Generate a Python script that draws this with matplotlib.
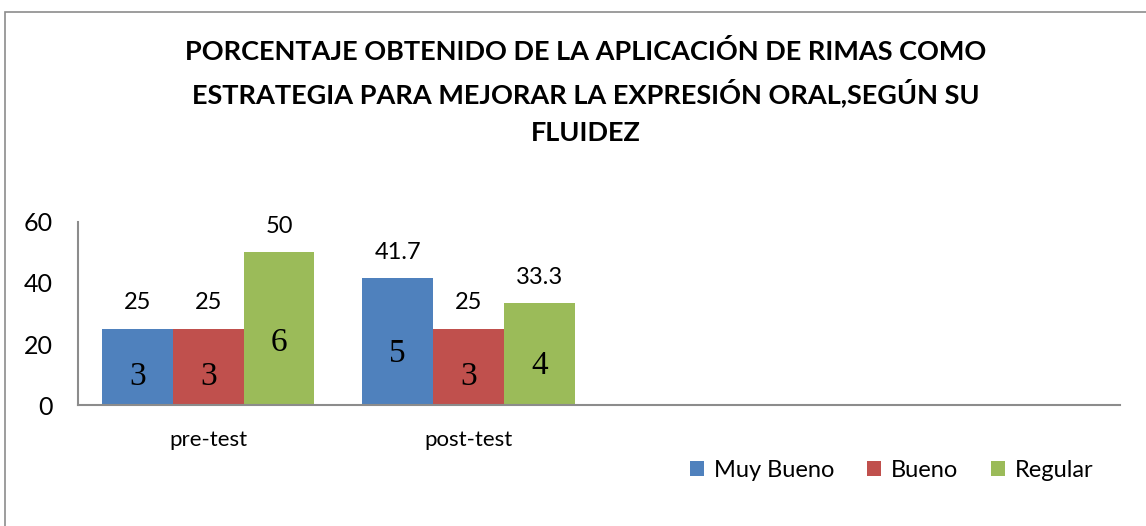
import matplotlib.pyplot as plt
import numpy as np
from matplotlib.patches import Rectangle

# Data
categories = ['pre-test', 'post-test', '', '']
series = ['Muy Bueno', 'Bueno', 'Regular']
muy_bueno = [25, 41.7]
bueno = [25, 25]
regular = [50, 33.3]
muy_bueno_n = [3, 5]
bueno_n = [3, 3]
regular_n = [6, 4]
colors = ['#4F81BD', '#C0504D', '#9BBB59']

title_lines = ['PORCENTAJE OBTENIDO DE LA APLICACIÓN DE RIMAS COMO',
               'ESTRATEGIA PARA MEJORAR LA EXPRESIÓN ORAL,SEGÚN SU',
               'FLUIDEZ']

plt.rcParams['font.family'] = ['Lato', 'DejaVu Sans']

fig = plt.figure(figsize=(11.46, 5.26), dpi=100)
ax = fig.add_axes([0.068, 0.230, 0.909, 0.348])

# outer chart border (only top and left visible in the crop)
fig.patches.append(Rectangle((5 / 1146, -0.1), 1.2, 1 - 12 / 526 + 0.1,
                             transform=fig.transFigure, fill=False,
                             edgecolor='#8c8c8c', linewidth=1.2))

x = np.arange(len(muy_bueno))
w = 0.272
vals = [muy_bueno, bueno, regular]
counts = [muy_bueno_n, bueno_n, regular_n]
for i, (name, v, n, c) in enumerate(zip(series, vals, counts, colors)):
    pos = x + (i - 1) * w
    ax.bar(pos, v, width=w, color=c, label=name)
    for px, val, cnt in zip(pos, v, n):
        lab = ('%g' % val)
        ax.annotate(lab, (px, val), xytext=(0, 11), textcoords='offset points',
                    ha='center', va='bottom', fontsize=17)
        ax.text(px, val * 0.45 - 2, str(cnt), ha='center', va='center',
                fontsize=24, family='Liberation Serif')

ax.set_xlim(-0.5, len(categories) - 0.5)
ax.set_ylim(0, 60)
ax.set_yticks([0, 20, 40, 60])
ax.set_xticks(np.arange(len(categories)))
ax.set_xticklabels(categories)
ax.tick_params(axis='both', length=0)
ax.tick_params(axis='y', pad=18, labelsize=18)
ax.tick_params(axis='x', pad=18, labelsize=16)
for s in ['top', 'right']:
    ax.spines[s].set_visible(False)
for s in ['left', 'bottom']:
    ax.spines[s].set_color('#8c8c8c')
    ax.spines[s].set_linewidth(1.5)

for k, line in enumerate(title_lines):
    fig.text(0.511, 1 - (52 + 40.5 * k) / 526, line, ha='center', va='center',
             fontsize=19.5, fontweight='bold')

ax.legend(loc='center', bbox_to_anchor=(0.781, -0.355), ncol=3, frameon=False,
          fontsize=17, handlelength=0.6, handleheight=0.6, handletextpad=0.4,
          columnspacing=1.4)

plt.savefig('out.png', dpi=100)
